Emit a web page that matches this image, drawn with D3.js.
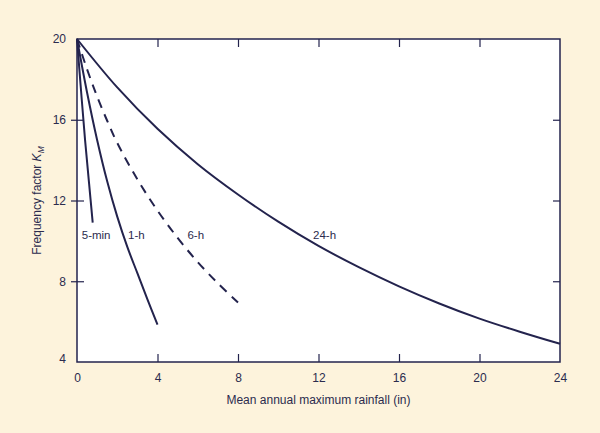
<!DOCTYPE html>
<html><head><meta charset="utf-8">
<script src="https://cdn.jsdelivr.net/npm/d3@7"></script>
<style>body{margin:0;background:#fdf3dc;} svg{display:block;}</style>
</head><body>
<script>
// Data
const xTicks = [0, 4, 8, 12, 16, 20, 24];
const yTicks = [4, 8, 12, 16, 20];
const series = ["5-min", "1-h", "6-h", "24-h"];
const x5min = [0, 0.2, 0.4, 0.6, 0.78];
const y5min = [20, 17.45, 15.0, 12.85, 10.9];
const x1h = [0, 0.5, 1, 1.5, 2, 2.5, 3, 3.5, 4];
const y1h = [20, 17.35, 15.0, 12.95, 11.2, 9.7, 8.4, 7.1, 5.85];
const x6h = [0, 0.5, 1, 1.5, 2, 3, 4, 5, 6, 7, 8];
const y6h = [20, 18.5, 17.15, 15.95, 14.85, 13.05, 11.5, 10.15, 8.95, 7.9, 6.95];
const x24h = [0, 2, 4, 6, 8, 10, 12, 14, 16, 18, 20, 22, 24];
const y24h = [20, 17.6, 15.55, 13.8, 12.3, 10.95, 9.75, 8.7, 7.75, 6.9, 6.15, 5.5, 4.9];
const labelPos = [[0.95, 10.3], [2.95, 10.3], [5.9, 10.3], [12.3, 10.3]];

const W = 600, H = 433;
const m = {left: 77, right: 40, top: 39, bottom: 71};
const ink = "#23234d";
const svg = d3.select("body").append("svg").attr("width", W).attr("height", H);
svg.append("rect").attr("width", W).attr("height", H).attr("fill", "#fdf3dc");

const x = d3.scaleLinear().domain([0, 24]).range([m.left, W - m.right]);
const y = d3.scaleLinear().domain([4, 20]).range([H - m.bottom, m.top]);

svg.append("rect").attr("x", x(0)).attr("y", y(20)).attr("width", x(24) - x(0)).attr("height", y(4) - y(20))
  .attr("fill", "#ffffff").attr("stroke", ink).attr("stroke-width", 1.5);

const font = "Liberation Sans, Arial, sans-serif";
const textCol = "#2b2b4e";

const gb = svg.append("g").attr("transform", `translate(0,${y(4)})`)
  .call(d3.axisBottom(x).tickValues(xTicks).tickSizeInner(-8).tickSizeOuter(0).tickPadding(11));
const gt = svg.append("g").attr("transform", `translate(0,${y(20)})`)
  .call(d3.axisTop(x).tickValues(xTicks).tickSizeInner(-8).tickSizeOuter(0).tickFormat(""));
const gl = svg.append("g").attr("transform", `translate(${x(0)},0)`)
  .call(d3.axisLeft(y).tickValues(yTicks).tickSizeInner(6).tickSizeOuter(0).tickPadding(5));
gl.selectAll(".tick line").attr("x1", 7);
const gr = svg.append("g").attr("transform", `translate(${x(24)},0)`)
  .call(d3.axisRight(y).tickValues(yTicks).tickSizeInner(-7).tickSizeOuter(0).tickFormat(""));

[gb, gt, gl, gr].forEach(g => {
  g.select(".domain").remove();
  g.selectAll(".tick line").attr("stroke", ink).attr("stroke-width", 1.2);
  g.selectAll(".tick text").attr("fill", textCol).attr("font-family", font).attr("font-size", 12);
});
gb.selectAll(".tick").filter(d => d === 0 || d === 24).select("line").remove();
gt.selectAll(".tick").filter(d => d === 0 || d === 24).select("line").remove();
gl.selectAll(".tick text").attr("dy", "0.32em");
gl.selectAll(".tick").filter(d => d === 4).select("line").remove();
gl.selectAll(".tick").filter(d => d === 4).select("text").attr("dy", "0.05em");
gl.selectAll(".tick").filter(d => d === 20).select("line").remove();
gr.selectAll(".tick").filter(d => d === 4 || d === 20).select("line").remove();

const line = d3.line().x(d => x(d[0])).y(d => y(d[1])).curve(d3.curveCatmullRom.alpha(0.5));
const datasets = [
  [x5min, y5min, null], [x1h, y1h, null], [x6h, y6h, "9,7"], [x24h, y24h, null]
];
datasets.forEach(([xs, ys, dash]) => {
  svg.append("path").datum(xs.map((v, i) => [v, ys[i]])).attr("d", line)
    .attr("fill", "none").attr("stroke", ink).attr("stroke-width", 2)
    .attr("stroke-dasharray", dash);
});

series.forEach((s, i) => {
  svg.append("text").attr("x", x(labelPos[i][0])).attr("y", y(labelPos[i][1]))
    .attr("text-anchor", "middle").attr("dy", "0.35em")
    .attr("font-family", font).attr("font-size", 11.5).attr("fill", textCol).text(s);
});

svg.append("text").attr("x", (x(0) + x(24)) / 2).attr("y", 404).attr("text-anchor", "middle")
  .attr("font-family", font).attr("font-size", 12).attr("fill", textCol)
  .text("Mean annual maximum rainfall (in)");
const yt = svg.append("text").attr("transform", `translate(41,${(y(4) + y(20)) / 2}) rotate(-90)`)
  .attr("text-anchor", "middle").attr("font-family", font).attr("font-size", 12).attr("fill", textCol);
yt.append("tspan").text("Frequency factor ");
yt.append("tspan").attr("font-style", "italic").text("K");
yt.append("tspan").attr("font-style", "italic").attr("font-size", 8.5).attr("dy", 3).text("M");
</script>
</body></html>
